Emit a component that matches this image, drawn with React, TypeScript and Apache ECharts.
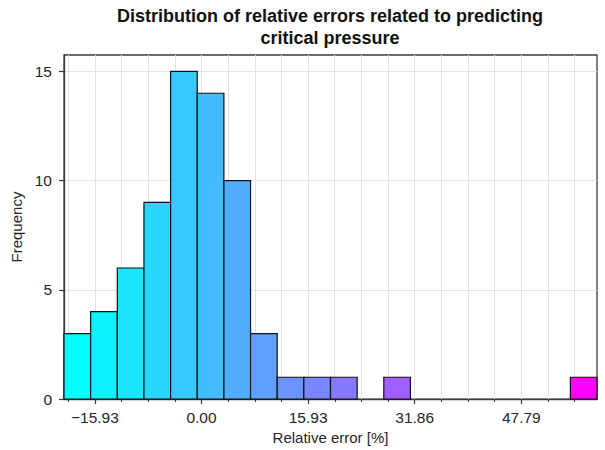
import React, { useEffect, useRef } from "react";
import * as echarts from "echarts";

// Histogram bin edges (relative error, %)
const binEdges = [
  -20.55, -16.5675, -12.585, -8.6025, -4.62, -0.6375, 3.345, 7.3275, 11.31,
  15.2925, 19.275, 23.2575, 27.24, 31.2225, 35.205, 39.1875, 43.17, 47.1525,
  51.135, 55.1175, 59.1,
];
// Frequency per bin
const counts = [3, 4, 6, 9, 15, 14, 10, 3, 1, 1, 1, 0, 1, 0, 0, 0, 0, 0, 0, 1];
// X tick positions (every one) and labelled ones
const minorTicks = [
  -19.9125, -15.93, -11.9475, -7.965, -3.9825, 0, 3.9825, 7.965, 11.9475,
  15.93, 19.9125, 23.895, 27.8775, 31.86, 35.8425, 39.825, 43.8075, 47.79,
  51.7725, 55.755,
];
const majorTicks = [-15.93, 0, 15.93, 31.86, 47.79];
const yTicks = [0, 5, 10, 15];

const titleText = "Distribution of relative errors related to predicting\ncritical pressure";
const xName = "Relative error [%]";
const yName = "Frequency";

const FONT = "Liberation Sans, Arial, Helvetica, sans-serif";
const TXT = "#262626";
const FRAME = "#3c3c3c";
const GRIDC = "#e3e3e3";

function coolColor(t: number) {
  const r = Math.round(255 * t);
  const g = Math.round(255 * (1 - t));
  return `rgb(${r},${g},255)`;
}

const fmt = (v: number) => {
  const s = Number(v).toFixed(2);
  return s.replace("-", "\u2212");
};

export default function App() {
  const ref = useRef<HTMLDivElement>(null);
  useEffect(() => {
    if (!ref.current) return;
    const chart = echarts.init(ref.current, undefined, { renderer: "svg" });
    const xMin = binEdges[0];
    const xMax = binEdges[binEdges.length - 1];
    const n = counts.length;
    const data = counts.map((c, i) => [binEdges[i], binEdges[i + 1], c, i]);
    chart.setOption({
      animation: false,
      backgroundColor: "#ffffff",
      textStyle: { fontFamily: FONT },
      grid: {
        left: 64,
        right: 8,
        top: 55,
        bottom: 49,
        show: true,
        borderColor: FRAME,
        borderWidth: 1.3,
        backgroundColor: "transparent",
      },
      graphic: [
        {
          type: "text",
          x: 330,
          y: 5,
          style: {
            text: titleText,
            fontFamily: FONT,
            fontSize: 18,
            fontWeight: "bold",
            fill: "#111",
            textAlign: "center",
            textVerticalAlign: "top",
            lineHeight: 22,
          },
        },
      ],
      xAxis: [
        {
          type: "value",
          position: "bottom",
          min: xMin,
          max: xMax,
          axisLine: { show: true, onZero: false, lineStyle: { color: FRAME, width: 1.3 } },
          axisTick: {
            show: true,
            length: 3,
            customValues: minorTicks,
            lineStyle: { color: FRAME, width: 1 },
          },
          axisLabel: { show: false },
          splitLine: { show: false },
        },
        {
          type: "value",
          position: "bottom",
          min: xMin,
          max: xMax,
          axisLine: { show: false, onZero: false },
          axisTick: {
            show: true,
            length: 5,
            customValues: majorTicks,
            lineStyle: { color: FRAME, width: 1.2 },
          },
          axisLabel: {
            show: true,
            customValues: majorTicks,
            formatter: fmt,
            margin: 10,
            fontSize: 15.5,
            color: TXT,
            fontFamily: FONT,
          },
          splitLine: { show: false },
          name: xName,
          nameLocation: "middle",
          nameGap: 30,
          nameTextStyle: { fontSize: 15, color: TXT, fontFamily: FONT },
        },
      ],
      yAxis: {
        type: "value",
        min: 0,
        max: 15.75,
        interval: 5,
        axisLine: { show: true, onZero: false, lineStyle: { color: FRAME, width: 1.3 } },
        axisTick: {
          show: true,
          length: 5,
          customValues: yTicks,
          lineStyle: { color: FRAME, width: 1.2 },
        },
        axisLabel: {
          show: true,
          customValues: yTicks,
          margin: 12,
          fontSize: 15.5,
          color: TXT,
          fontFamily: FONT,
        },
        splitLine: { show: true, lineStyle: { color: GRIDC, width: 1 } },
        name: yName,
        nameLocation: "middle",
        nameGap: 32,
        nameTextStyle: { fontSize: 15, color: TXT, fontFamily: FONT },
      },
      series: [
        {
          type: "line",
          xAxisIndex: 0,
          yAxisIndex: 0,
          data: [],
          silent: true,
          z: 1,
          markLine: {
            silent: true,
            symbol: ["none", "none"],
            label: { show: false },
            lineStyle: { color: GRIDC, width: 1, type: "solid" },
            data: minorTicks.map((v) => ({ xAxis: v })),
          },
        },
        {
          type: "custom",
          xAxisIndex: 0,
          yAxisIndex: 0,
          encode: { x: [0, 1], y: 2 },
          data,
          z: 5,
          renderItem: (params: any, api: any) => {
            const x0 = api.value(0);
            const x1 = api.value(1);
            const c = api.value(2);
            const i = api.value(3);
            if (!c) return null;
            const p0 = api.coord([x0, c]);
            const p1 = api.coord([x1, 0]);
            return {
              type: "rect",
              shape: {
                x: p0[0],
                y: p0[1],
                width: p1[0] - p0[0],
                height: p1[1] - p0[1],
              },
              style: {
                fill: coolColor(i / (n - 1)),
                stroke: "#111111",
                lineWidth: 1.2,
              },
            };
          },
        },
      ],
    });
    return () => chart.dispose();
  }, []);
  return (
    <div
      ref={ref}
      style={{ position: "absolute", left: 0, top: 0, width: 605, height: 450 }}
    />
  );
}
